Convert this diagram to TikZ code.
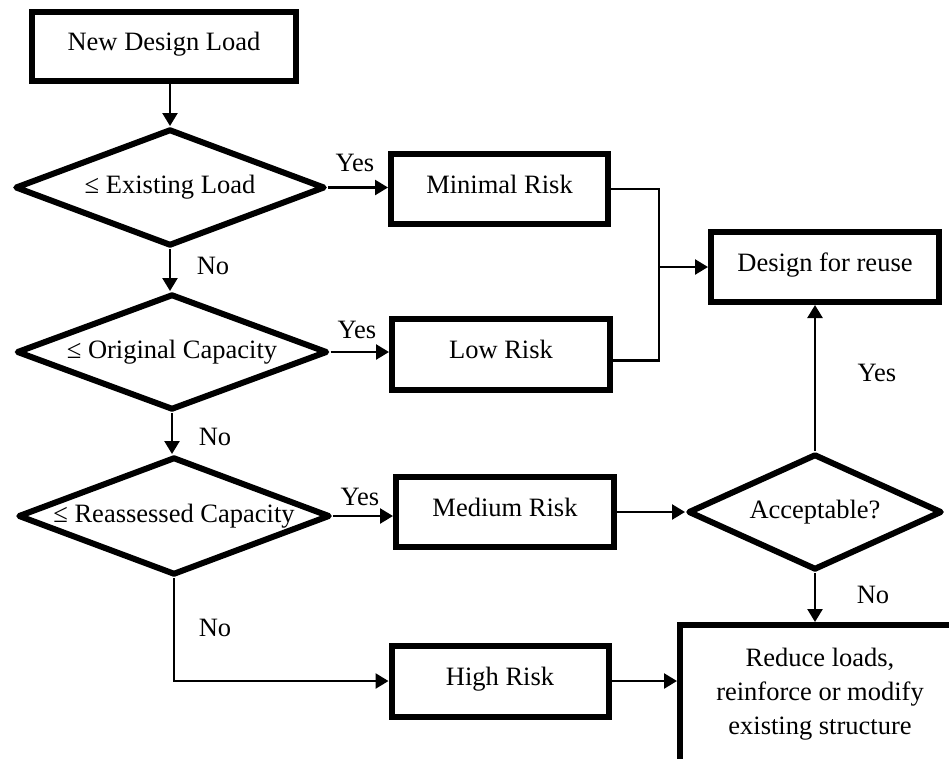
\documentclass[tikz,border=0pt]{standalone}
\usepackage{fontspec}
\setmainfont{Liberation Serif}
\usetikzlibrary{arrows.meta,shapes.geometric}
\begin{document}
\begin{tikzpicture}[x=1pt,y=-1pt,
  font=\fontsize{26.5}{34}\selectfont,
  box/.style={draw, line width=6pt, rectangle, inner sep=0pt, text height=18pt, text depth=10pt},
  bigbox/.style={draw, line width=6pt, rectangle, inner sep=0pt, align=center},
  dec/.style={draw, line width=6pt, diamond, inner sep=0pt, line join=round},
  conn/.style={line width=2.5pt, -{Triangle[length=13pt,width=15pt]}},
  plain/.style={line width=2.5pt},
  lbl/.style={inner sep=0pt}
]
\useasboundingbox (0,0) rectangle (949,758);
\clip (0,0) rectangle (949,758);

% boxes
\node[box, minimum width=264pt, minimum height=69pt] (ndl) at (164,46) {New Design Load};
\node[box, minimum width=217pt, minimum height=70pt] (min) at (499.5,189) {Minimal Risk};
\node[box, minimum width=218pt, minimum height=71pt] (low) at (501,354.5) {Low Risk};
\node[box, minimum width=218pt, minimum height=70pt] (med) at (505,512) {Medium Risk};
\node[box, minimum width=217pt, minimum height=71pt] (high) at (500,681) {High Risk};
\node[box, minimum width=228pt, minimum height=70pt] (des) at (825,267) {Design for reuse};
\node[bigbox, minimum width=280pt, minimum height=138pt] (red) at (820,694) {Reduce loads,\\reinforce or modify\\existing structure};

% decisions
\node[dec, minimum width=310pt, minimum height=117pt] (d1) at (170,187.5) {\makebox[0pt]{≤ Existing Load}};
\node[dec, minimum width=311pt, minimum height=116pt] (d2) at (172,352) {\makebox[0pt]{≤ Original Capacity}};
\node[dec, minimum width=312pt, minimum height=118pt] (d3) at (174,516) {\makebox[0pt]{≤ Reassessed Capacity}};
\node[dec, minimum width=254pt, minimum height=116pt] (acc) at (815,512) {\makebox[0pt]{Acceptable?}};

% labels
\node[lbl] (y1) at (355,163) {Yes};
\node[lbl] (y2) at (357,330) {Yes};
\node[lbl] (y3) at (360,497) {Yes};
\node[lbl] (y4) at (877,373) {Yes};
\node[lbl] (n1) at (213,266) {No};
\node[lbl] (n2) at (215,437) {No};
\node[lbl] (n3) at (215,628) {No};
\node[lbl] (n4) at (873,595) {No};

% junction
\coordinate (jmid) at (659,267);

% connectors
\draw[conn] (ndl.south -| d1.north) -- (d1.north);
\draw[conn] (d1.east) -- (d1.east -| min.west);
\draw[conn] (d1.south) -- (d1.south |- d2.north);
\draw[conn] (d2.east) -- (d2.east -| low.west);
\draw[conn] (d2.south) -- (d2.south |- d3.north);
\draw[conn] (d3.east) -- (d3.east -| med.west);
\draw[conn] (d3.south) |- (high.west);
\draw[plain] (min.east) -| (jmid) |- ([yshift=-6pt]low.east);
\draw[conn] (jmid) -- (des.west);
\draw[conn] (med.east) -- (acc.west);
\draw[conn] (acc.north) -- (acc.north |- des.south);
\draw[conn] (acc.south) -- (acc.south |- red.north);
\draw[conn] (high.east) -- (high.east -| red.west);
\end{tikzpicture}
\end{document}
